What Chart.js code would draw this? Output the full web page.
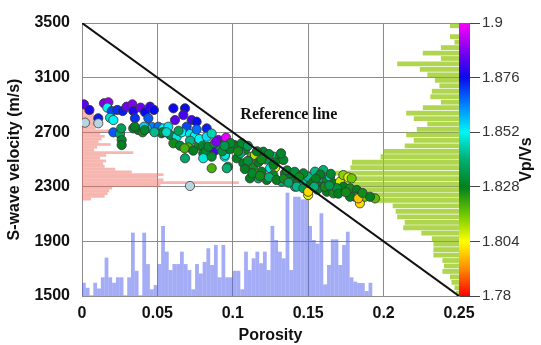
<!DOCTYPE html>
<html lang="en">
<head>
    <script src="https://cdn.jsdelivr.net/npm/chart.js"></script>
    <style>
        html, body { margin: 0; padding: 0; background: #fff; }
        #wrap { width: 541px; height: 345px; }
    </style>
</head>
<body>
<div id="wrap"><canvas id="velChart" width="541" height="345"></canvas></div>
<script>
    // axis ticks
    const porosityTicks = [0, 0.05, 0.1, 0.15, 0.2, 0.25];
    const velocityTicks = [1500, 1900, 2300, 2700, 3100, 3500];
    const vpvsTicks = [1.78, 1.804, 1.828, 1.852, 1.876, 1.9];

    // reference line
    const refPorosity = [0, 0.25];
    const refVelocity = [3500, 1500];

    // scatter samples: porosity, S-wave velocity, Vp/Vs
    const ptPorosity = [
        0.0013, 0.0049, 0.0108, 0.0146, 0.0175, 0.0168, 0.0197, 0.0186, 0.0208, 0.0234,
        0.0270, 0.0296, 0.0334, 0.0340, 0.0351, 0.0389, 0.0418, 0.0451, 0.0477, 0.0440,
        0.0462, 0.0429, 0.0340, 0.0373, 0.0402, 0.0411, 0.0208, 0.0252, 0.0263, 0.0263,
        0.0506, 0.0539, 0.0572, 0.0606, 0.0683, 0.0617, 0.0672, 0.0727, 0.0760, 0.0694,
        0.0528, 0.0584, 0.0628, 0.0606, 0.0650, 0.0661, 0.0716, 0.0749, 0.0716, 0.0771,
        0.0705, 0.0738, 0.0683, 0.0778, 0.0800, 0.0804, 0.0260, 0.0350, 0.0415, 0.0537,
        0.0680, 0.0822, 0.0924, 0.0946, 0.1010, 0.0968,
        0.0827, 0.0827, 0.0904, 0.0877, 0.0838, 0.0804, 0.0860, 0.0860, 0.0915, 0.0948,
        0.0960, 0.1015, 0.1026, 0.1081, 0.1070, 0.1125, 0.1147, 0.1136, 0.1202, 0.1269,
        0.1313, 0.1247, 0.1280, 0.1191, 0.1169, 0.1225, 0.1269, 0.1335, 0.1346, 0.1324,
        0.1391, 0.1412, 0.1457, 0.1490, 0.1512, 0.1500, 0.1059, 0.1114, 0.0880, 0.0930,
        0.0980, 0.1050, 0.1100, 0.1170, 0.1220, 0.1280, 0.1080, 0.1130, 0.1180, 0.1240,
        0.1290, 0.1340, 0.1370, 0.1430, 0.1470, 0.1520, 0.1320,
        0.1380, 0.1424, 0.1424, 0.1468, 0.1500, 0.1500, 0.1534, 0.1590, 0.1578, 0.1623,
        0.1645, 0.1667, 0.1711, 0.1733, 0.1766, 0.1788, 0.1733, 0.1777, 0.1822, 0.1810,
        0.1843, 0.1877, 0.1943, 0.1623, 0.1667, 0.1910, 0.1777, 0.1832, 0.1468, 0.1545,
        0.1600, 0.1560, 0.1690, 0.1650, 0.1580, 0.1700, 0.1750, 0.1860,
        0.0890, 0.0955,
        0.0985, 0.1035, 0.0945, 0.1160, 0.1240, 0.1100, 0.1190, 0.1270, 0.1360, 0.1410,
        0.1440, 0.1550, 0.1610, 0.1640, 0.1540, 0.0560, 0.0640, 0.0480, 0.0760, 0.0860
    ];
    const ptVelocity = [
        2904, 2863, 2802, 2912, 2919, 2880, 2855, 2806, 2789, 2863,
        2855, 2887, 2904, 2855, 2802, 2880, 2846, 2887, 2863, 2802,
        2740, 2728, 2728, 2716, 2699, 2740, 2699, 2687, 2643, 2606,
        2740, 2728, 2740, 2875, 2875, 2789, 2826, 2789, 2777, 2740,
        2692, 2680, 2667, 2619, 2601, 2699, 2687, 2674, 2638, 2601,
        2589, 2565, 2509, 2650, 2601, 2545, 2728, 2740, 2716, 2701,
        2582, 2557, 2582, 2521, 2606, 2447,
        2728, 2667, 2643, 2562, 2594, 2509, 2521, 2436, 2594, 2533,
        2436, 2594, 2509, 2570, 2472, 2521, 2533, 2447, 2557, 2521,
        2521, 2436, 2440, 2411, 2362, 2350, 2386, 2496, 2399, 2337,
        2362, 2301, 2362, 2313, 2374, 2240, 2619, 2362, 2620, 2560,
        2575, 2545, 2490, 2480, 2500, 2480, 2430, 2400, 2380, 2370,
        2350, 2360, 2330, 2335, 2340, 2330, 2545,
        2399, 2386, 2301, 2289, 2264, 2374, 2337, 2362, 2301, 2337,
        2374, 2325, 2337, 2386, 2369, 2362, 2301, 2289, 2277, 2227,
        2179, 2227, 2215, 2264, 2252, 2227, 2227, 2215, 2399, 2411,
        2423, 2280, 2290, 2395, 2390, 2250, 2260, 2255,
        2630, 2660,
        2620, 2560, 2600, 2560, 2540, 2600, 2500, 2460, 2420, 2410,
        2370, 2360, 2300, 2310, 2300, 2700, 2710, 2700, 2720, 2690
    ];
    const ptVpVs = [
        1.884, 1.878, 1.874, 1.888, 1.890, 1.852, 1.870, 1.848, 1.852, 1.872,
        1.874, 1.886, 1.888, 1.878, 1.872, 1.886, 1.876, 1.880, 1.876, 1.868,
        1.864, 1.858, 1.830, 1.828, 1.826, 1.856, 1.868, 1.838, 1.830, 1.828,
        1.866, 1.852, 1.854, 1.876, 1.876, 1.884, 1.882, 1.882, 1.876, 1.870,
        1.830, 1.832, 1.850, 1.826, 1.830, 1.852, 1.850, 1.852, 1.842, 1.826,
        1.820, 1.828, 1.838, 1.852, 1.830, 1.828, 1.836, 1.828, 1.830, 1.830,
        1.820, 1.830, 1.842, 1.852, 1.828, 1.830,
        1.874, 1.854, 1.888, 1.882, 1.830, 1.850, 1.830, 1.820, 1.836, 1.850,
        1.840, 1.828, 1.828, 1.830, 1.828, 1.820, 1.810, 1.826, 1.830, 1.842,
        1.830, 1.850, 1.806, 1.828, 1.838, 1.828, 1.830, 1.830, 1.828, 1.840,
        1.830, 1.840, 1.828, 1.826, 1.830, 1.806, 1.830, 1.828, 1.836, 1.832,
        1.828, 1.840, 1.832, 1.828, 1.834, 1.828, 1.828, 1.830, 1.826, 1.840,
        1.828, 1.826, 1.838, 1.828, 1.842, 1.828, 1.830,
        1.828, 1.830, 1.842, 1.836, 1.800, 1.842, 1.828, 1.842, 1.828, 1.830,
        1.846, 1.828, 1.808, 1.814, 1.806, 1.816, 1.828, 1.826, 1.828, 1.826,
        1.800, 1.816, 1.818, 1.828, 1.826, 1.828, 1.828, 1.798, 1.830, 1.842,
        1.840, 1.830, 1.832, 1.830, 1.828, 1.828, 1.826, 1.826,
        1.888, 1.898,
        1.830, 1.826, 1.834, 1.828, 1.830, 1.836, 1.826, 1.828, 1.830, 1.832,
        1.826, 1.828, 1.826, 1.834, 1.840, 1.848, 1.836, 1.842, 1.866, 1.846
    ];

    // pale grey-blue samples
    const palePorosity = [0.0020, 0.0108, 0.0716];
    const paleVelocity = [2770, 2765, 2306];

    // porosity histogram (bottom, blue): bar tops in m/s, bins of 0.0025 from 0
    const blueBinWidth = 0.0025;
    const blueTop = [
        1597, 1560, 1505, 1597, 1555, 1637, 1781, 1637, 1597, 1637,
        1637, 1505, 1637, 1964, 1685, 1505, 1964, 1734, 1549, 1580,
        1734, 2013, 1825, 1690, 1734, 1734, 1825, 1734, 1690, 1549,
        1734, 1665, 1750, 1850, 1727, 1874, 1637, 1874, 1637, 1637,
        1685, 1685, 1549, 1825, 1690, 1776, 1825, 1740, 1825, 1690,
        2013, 1910, 1825, 1776, 2257, 1690, 2227, 2227, 2208, 2208,
        2013, 1910, 1884, 2106, 1585, 1727, 1915, 1915, 1727, 1874,
        1971, 1637, 1605, 1595, 1595, 1536, 1597
    ];

    // velocity histogram (left, pink): bin centres and bar lengths in porosity units
    const pinkBinWidth = 20;
    const pinkVelocity = [
        2910, 2890, 2870, 2850, 2830, 2810, 2790, 2770, 2750, 2730,
        2710, 2690, 2670, 2650, 2630, 2610, 2590, 2570, 2550, 2530,
        2510, 2490, 2470, 2450, 2430, 2410, 2390, 2370, 2350, 2330,
        2310, 2290, 2270, 2250, 2230, 2210
    ];
    const pinkLength = [
        0.004, 0.006, 0.007, 0.008, 0.008, 0.009, 0.008, 0.008, 0.010, 0.009,
        0.019, 0.012, 0.015, 0.013, 0.011, 0.019, 0.010, 0.008, 0.034, 0.016,
        0.012, 0.016, 0.014, 0.015, 0.022, 0.033, 0.054, 0.050, 0.054, 0.104,
        0.052, 0.020, 0.018, 0.017, 0.015, 0.006
    ];

    // velocity histogram (right, green): bin centres and bar lengths from the right edge
    const greenBinWidth = 40;
    const greenVelocity = [
        3480, 3440, 3400, 3360, 3320, 3280, 3240, 3200, 3160, 3120,
        3080, 3040, 3000, 2960, 2920, 2880, 2840, 2800, 2760, 2720,
        2680, 2640, 2600, 2560, 2520, 2480, 2440, 2400, 2360, 2320,
        2280, 2240, 2200, 2160, 2120, 2080, 2040, 2000, 1960, 1920,
        1880, 1840, 1800, 1760, 1720, 1680, 1640, 1600, 1560, 1520
    ];
    const greenLength = [
        0.006, 0, 0.006, 0.003, 0.012, 0.024, 0.012, 0.041, 0.026, 0.021,
        0.016, 0.013, 0.018, 0.019, 0.012, 0.024, 0.035, 0.030, 0.021, 0.028,
        0.035, 0.030, 0.036, 0.050, 0.052, 0.071, 0.072, 0.082, 0.080, 0.080,
        0.066, 0.066, 0.054, 0.044, 0.042, 0.041, 0.036, 0.037, 0.025, 0.018,
        0.017, 0.017, 0.017, 0.011, 0.010, 0.011, 0.006, 0.005, 0.003, 0.002
    ];

    // Vp/Vs colour scale
    const cmapStops = [
        [1.78,  [255, 0, 0]],
        [1.792, [255, 140, 0]],
        [1.804, [255, 255, 0]],
        [1.816, [110, 200, 0]],
        [1.828, [0, 128, 30]],
        [1.84,  [0, 175, 115]],
        [1.852, [0, 245, 245]],
        [1.864, [0, 130, 255]],
        [1.876, [10, 10, 235]],
        [1.888, [128, 0, 240]],
        [1.9,   [255, 0, 255]]
    ];
    const rgb = c => `rgb(${c[0]},${c[1]},${c[2]})`;
    function vpvsColor(v) {
        for (let i = 1; i < cmapStops.length; i++) {
            if (v <= cmapStops[i][0]) {
                const [a, ca] = cmapStops[i - 1];
                const [b, cb] = cmapStops[i];
                const t = Math.max(0, (v - a) / (b - a));
                return rgb(ca.map((c, k) => Math.round(c + (cb[k] - c) * t)));
            }
        }
        return rgb(cmapStops[cmapStops.length - 1][1]);
    }

    const porMax = porosityTicks[porosityTicks.length - 1];
    const velMin = velocityTicks[0];
    const velMax = velocityTicks[velocityTicks.length - 1];

    // fixed plot box (canvas 541x345, axis boxes 82 / 82 / 49, top pad 23)
    const plotW = 541 - 82 - 82;
    const plotH = 345 - 23 - 49;
    const blueThick = plotW * blueBinWidth / porMax;
    const pinkThick = plotH * pinkBinWidth / (velMax - velMin);
    const greenThick = plotH * greenBinWidth / (velMax - velMin) * 0.88;

    const sans = '"Liberation Sans", Arial, sans-serif';
    const gridColor = '#8c8c8c';

    const extras = {
        id: 'extras',
        afterDraw(chart) {
            const { ctx, chartArea, scales } = chart;
            const cb = scales.yc;
            const lo = vpvsTicks[0], hi = vpvsTicks[vpvsTicks.length - 1];
            const top = cb.getPixelForValue(hi), bottom = cb.getPixelForValue(lo);
            const grad = ctx.createLinearGradient(0, top, 0, bottom);
            cmapStops.forEach(s => grad.addColorStop((hi - s[0]) / (hi - lo), rgb(s[1])));
            ctx.save();
            ctx.fillStyle = grad;
            ctx.fillRect(chartArea.right, top, 11, bottom - top);

            // colour bar title
            ctx.translate(527, (chartArea.top + chartArea.bottom) / 2);
            ctx.rotate(-Math.PI / 2);
            ctx.font = 'bold 16px ' + sans;
            ctx.fillStyle = '#111';
            ctx.textAlign = 'center';
            ctx.textBaseline = 'middle';
            ctx.fillText('Vp/Vs', 0, 0);
            ctx.restore();

            // reference line label
            ctx.save();
            ctx.font = 'bold 16px "Liberation Serif", "Times New Roman", serif';
            ctx.fillStyle = '#111';
            ctx.textBaseline = 'middle';
            ctx.fillText('Reference line', scales.x.getPixelForValue(0.105), scales.y.getPixelForValue(2826));
            ctx.restore();
        }
    };

    const hidden = (axis, min, max) => ({ type: 'linear', axis: axis, display: false, min: min, max: max, offset: false });

    const ctx = document.getElementById('velChart').getContext('2d');
    new Chart(ctx, {
        type: 'scatter',
        data: {
            datasets: [
                {
                    type: 'bar',
                    label: 'Porosity histogram',
                    xAxisID: 'xBlue', yAxisID: 'yBlue',
                    data: blueTop.map((t, i) => ({ x: blueBinWidth * (i + 0.5), y: [velMin, t] })),
                    backgroundColor: 'rgba(80,95,235,0.52)',
                    borderWidth: 0,
                    grouped: false,
                    barThickness: blueThick,
                    inflateAmount: 0,
                    order: 5
                },
                {
                    type: 'bar',
                    label: 'Velocity histogram (left)',
                    indexAxis: 'y',
                    xAxisID: 'xPink', yAxisID: 'yPink',
                    data: pinkVelocity.map((v, i) => ({ y: v, x: [0, pinkLength[i]] })),
                    backgroundColor: 'rgba(240,110,95,0.5)',
                    borderWidth: 0,
                    grouped: false,
                    barThickness: pinkThick,
                    inflateAmount: 0,
                    order: 5
                },
                {
                    type: 'bar',
                    label: 'Velocity histogram (right)',
                    indexAxis: 'y',
                    xAxisID: 'xGreen', yAxisID: 'yGreen',
                    data: greenVelocity.map((v, i) => ({ y: v, x: [porMax - greenLength[i], porMax] })),
                    backgroundColor: 'rgba(150,200,20,0.75)',
                    borderWidth: 0,
                    grouped: false,
                    barThickness: greenThick,
                    inflateAmount: 0,
                    order: 5
                },
                {
                    label: 'Samples',
                    data: ptPorosity.map((p, i) => ({ x: p, y: ptVelocity[i] })),
                    pointBackgroundColor: ptVpVs.map(vpvsColor),
                    pointBorderColor: 'rgba(55,55,55,0.85)',
                    pointBorderWidth: 1,
                    pointRadius: 4.6,
                    order: 3
                },
                {
                    label: 'Pale samples',
                    data: palePorosity.map((p, i) => ({ x: p, y: paleVelocity[i] })),
                    pointBackgroundColor: '#b9d3df',
                    pointBorderColor: 'rgba(70,70,70,0.85)',
                    pointBorderWidth: 1,
                    pointRadius: 4.6,
                    order: 2
                },
                {
                    label: 'Reference line',
                    showLine: true,
                    data: refPorosity.map((p, i) => ({ x: p, y: refVelocity[i] })),
                    borderColor: '#111',
                    borderWidth: 2,
                    pointRadius: 0,
                    order: 1
                }
            ]
        },
        options: {
            responsive: false,
            animation: false,
            events: [],
            layout: { padding: { top: 23, left: 0, right: 0, bottom: 0 } },
            plugins: {
                legend: { display: false },
                tooltip: { enabled: false }
            },
            scales: {
                x: {
                    type: 'linear', min: 0, max: porMax, offset: false,
                    afterBuildTicks: s => { s.ticks = porosityTicks.map(v => ({ value: v })); },
                    afterFit: s => { s.height = 49; },
                    ticks: {
                        callback: v => String(v), autoSkip: false, maxRotation: 0, padding: 8,
                        color: '#111', font: { family: sans, size: 16, weight: 'bold' }
                    },
                    grid: { color: gridColor, drawTicks: false },
                    border: { color: gridColor },
                    title: {
                        display: true, text: 'Porosity', color: '#111',
                        font: { family: sans, size: 16, weight: 'bold' },
                        padding: { top: 0, bottom: 0 }
                    }
                },
                y: {
                    type: 'linear', min: velMin, max: velMax, offset: false,
                    afterBuildTicks: s => { s.ticks = velocityTicks.map(v => ({ value: v })); },
                    afterFit: s => { s.width = 82; },
                    ticks: {
                        callback: v => String(v), padding: 12,
                        color: '#111', font: { family: sans, size: 16, weight: 'bold' }
                    },
                    grid: { color: gridColor, drawTicks: false },
                    border: { color: gridColor },
                    title: {
                        display: true, text: 'S-wave velocity (m/s)', color: '#111',
                        font: { family: sans, size: 16, weight: 'bold' },
                        padding: { top: 5, bottom: 0 }
                    }
                },
                yc: {
                    type: 'linear', position: 'right', min: vpvsTicks[0], max: vpvsTicks[vpvsTicks.length - 1],
                    afterBuildTicks: s => { s.ticks = vpvsTicks.map(v => ({ value: v })); },
                    afterFit: s => { s.width = 82; },
                    ticks: {
                        callback: v => String(v), padding: 2,
                        color: '#333', font: { family: sans, size: 15 }
                    },
                    grid: { drawOnChartArea: false, drawTicks: true, tickLength: 21, color: '#444' },
                    border: { display: false }
                },
                xBlue: hidden('x', 0, porMax),
                yBlue: hidden('y', velMin, velMax),
                xPink: hidden('x', 0, porMax),
                yPink: hidden('y', velMin, velMax),
                xGreen: hidden('x', 0, porMax),
                yGreen: hidden('y', velMin, velMax)
            }
        },
        plugins: [extras]
    });
</script>
</body>
</html>
